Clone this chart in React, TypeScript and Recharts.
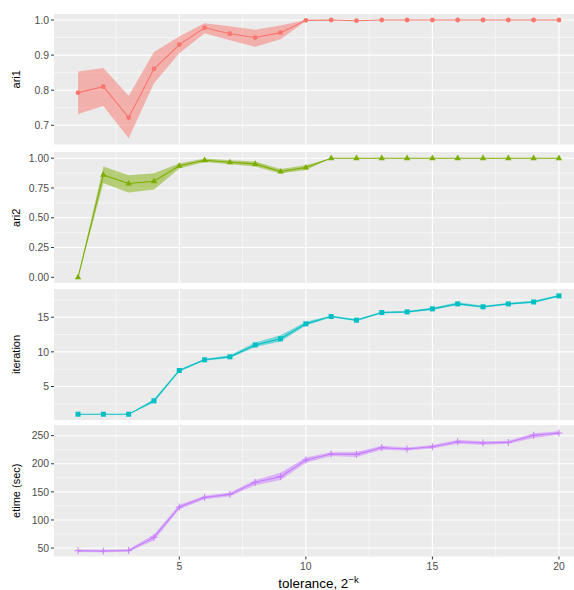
import React from 'react';
import { ComposedChart, Line, Area, XAxis, YAxis, CartesianGrid } from 'recharts';

// tolerance exponent k
const tolerance = [1, 2, 3, 4, 5, 6, 7, 8, 9, 10, 11, 12, 13, 14, 15, 16, 17, 18, 19, 20];

const ari1 = [0.793, 0.81, 0.722, 0.861, 0.93, 0.978, 0.961, 0.95, 0.964, 0.999, 1.0, 0.998, 1.0, 1.0, 1.0, 1.0, 1.0, 1.0, 1.0, 1.0];
const ari1Low = [0.732, 0.755, 0.663, 0.82, 0.905, 0.962, 0.942, 0.924, 0.945, 0.997, 1.0, 0.998, 1.0, 1.0, 1.0, 1.0, 1.0, 1.0, 1.0, 1.0];
const ari1High = [0.853, 0.863, 0.784, 0.909, 0.953, 0.991, 0.982, 0.972, 0.984, 1.0, 1.0, 0.998, 1.0, 1.0, 1.0, 1.0, 1.0, 1.0, 1.0, 1.0];

const ari2 = [0.0, 0.86, 0.787, 0.807, 0.936, 0.983, 0.966, 0.952, 0.888, 0.922, 1.0, 1.0, 1.0, 1.0, 1.0, 1.0, 1.0, 1.0, 1.0, 1.0];
const ari2Low = [0.0, 0.79, 0.711, 0.737, 0.913, 0.969, 0.95, 0.93, 0.871, 0.9, 1.0, 1.0, 1.0, 1.0, 1.0, 1.0, 1.0, 1.0, 1.0, 1.0];
const ari2High = [0.0, 0.93, 0.857, 0.874, 0.955, 0.997, 0.983, 0.972, 0.91, 0.941, 1.0, 1.0, 1.0, 1.0, 1.0, 1.0, 1.0, 1.0, 1.0, 1.0];

const iteration = [1, 1, 1, 2.93, 7.31, 8.85, 9.28, 11.0, 11.88, 14.04, 15.1, 14.57, 15.67, 15.77, 16.2, 16.92, 16.5, 16.92, 17.2, 18.08];
const iterationLow = [1, 1, 1, 2.7, 7.15, 8.7, 9.1, 10.7, 11.5, 13.8, 15.0, 14.4, 15.55, 15.65, 16.05, 16.75, 16.35, 16.8, 17.05, 17.95];
const iterationHigh = [1, 1, 1, 3.2, 7.45, 9.0, 9.5, 11.35, 12.4, 14.35, 15.25, 14.75, 15.8, 15.9, 16.35, 17.15, 16.65, 17.05, 17.4, 18.2];

const etime = [45.3, 44.7, 45.8, 69, 123, 140.2, 145.5, 167, 177, 206.7, 217.4, 216.8, 228.6, 226.3, 230.4, 239.3, 237, 238, 250.6, 254.7];
const etimeLow = [43, 42.5, 43.5, 64, 119, 137, 142, 162, 171, 202, 214, 212, 225, 223.5, 227, 235.5, 234, 235.5, 246, 251.5];
const etimeHigh = [47.5, 47, 48, 74, 127, 143, 149, 171, 184, 211, 220.5, 221, 232, 229, 233.5, 242.5, 240, 241, 254.5, 258];

const xTicks = [5, 10, 15, 20];
const xMinor = [2.5, 7.5, 12.5, 17.5];

const ari1Ticks = [0.7, 0.8, 0.9, 1.0];
const ari1Minor = [0.65, 0.75, 0.85, 0.95];
const ari2Ticks = [0, 0.25, 0.5, 0.75, 1.0];
const ari2Minor = [0.125, 0.375, 0.625, 0.875];
const iterationTicks = [5, 10, 15];
const iterationMinor = [2.5, 7.5, 12.5, 17.5];
const etimeTicks = [50, 100, 150, 200, 250];
const etimeMinor = [75, 125, 175, 225];

const FONT = '"Liberation Sans", Arial, Helvetica, sans-serif';
const CHART_W = 592;
const X_DOMAIN = [0.05, 20.95];
const TICK_FONT = 10.4;
const Y_TITLE_FONT = 11;

const rows = (v: number[], lo: number[], hi: number[]) =>
  tolerance.map((x, i) => ({ x, v: v[i], band: [lo[i], hi[i]] }));

const makeDot = (shape: string, color: string) => (props: any) => {
  const { cx, cy, index } = props;
  if (cx == null || cy == null) return <g key={index} />;
  if (shape === 'circle') return <circle key={index} cx={cx} cy={cy} r={2.4} fill={color} />;
  if (shape === 'triangle')
    return (
      <path
        key={index}
        d={`M${cx},${cy - 3.6}L${cx - 3.2},${cy + 2}L${cx + 3.2},${cy + 2}Z`}
        fill={color}
      />
    );
  if (shape === 'square')
    return <rect key={index} x={cx - 2.5} y={cy - 2.5} width={5} height={5} fill={color} />;
  return (
    <path
      key={index}
      d={`M${cx - 3.5},${cy}H${cx + 3.5}M${cx},${cy - 3.5}V${cy + 3.5}`}
      stroke={color}
      strokeWidth={1}
    />
  );
};

const XTitle = (props: any) => {
  const { viewBox } = props;
  const x = viewBox.x + viewBox.width / 2;
  const y = viewBox.y + viewBox.height - 2;
  return (
    <text x={x} y={y} textAnchor="middle" fontSize={13.4} fill="#000" fontFamily={FONT}>
      tolerance, 2<tspan dy={-5} fontSize={9.5}>−k</tspan>
    </text>
  );
};

const panels = [
  { name: 'ari1', data: rows(ari1, ari1Low, ari1High), color: '#F8766D', shape: 'circle', top: 0, marginTop: 14, plotH: 130.5, domain: [0.6453, 1.0171], ticks: ari1Ticks, minor: ari1Minor, fmt: (v: number) => v.toFixed(1) },
  { name: 'ari2', data: rows(ari2, ari2Low, ari2High), color: '#7CAE00', shape: 'triangle', top: 151.5, marginTop: 0, plotH: 131.5, domain: [-0.052, 1.052], ticks: ari2Ticks, minor: ari2Minor, fmt: (v: number) => v.toFixed(2) },
  { name: 'iteration', data: rows(iteration, iterationLow, iterationHigh), color: '#00BFC4', shape: 'square', top: 288.5, marginTop: 0, plotH: 131, domain: [0.166, 19.07], ticks: iterationTicks, minor: iterationMinor, fmt: (v: number) => String(v) },
  { name: 'etime (sec)', data: rows(etime, etimeLow, etimeHigh), color: '#C77CFF', shape: 'plus', top: 425, marginTop: 0, plotH: 131.5, domain: [35, 269], ticks: etimeTicks, minor: etimeMinor, fmt: (v: number) => String(v) },
];

export default function App() {
  return (
    <div style={{ position: 'relative', width: 574, height: 590, overflow: 'hidden', fontFamily: FONT, background: '#fff' }}>
      <style>{'body{margin:0}'}</style>
      {panels.map((p, i) => {
        const last = i === panels.length - 1;
        const xAxisH = last ? 33.5 : 0;
        const h = p.marginTop + p.plotH + xAxisH;
        return (
          <div key={p.name} style={{ position: 'absolute', left: 0, top: p.top }}>
            <ComposedChart
              width={CHART_W}
              height={h}
              data={p.data}
              margin={{ top: p.marginTop, right: 9, bottom: 0, left: 0 }}
            >
              <CartesianGrid
                horizontalValues={p.minor}
                verticalValues={xMinor}
                stroke="#FFFFFF"
                strokeWidth={0.55}
                fill="#EBEBEB"
                fillOpacity={1}
              />
              <CartesianGrid horizontalValues={p.ticks} verticalValues={xTicks} stroke="#FFFFFF" strokeWidth={1.1} />
              <XAxis
                type="number"
                dataKey="x"
                domain={X_DOMAIN}
                ticks={xTicks}
                allowDataOverflow
                hide={!last}
                height={xAxisH}
                axisLine={false}
                tickSize={3}
                tickMargin={3}
                tickLine={{ stroke: '#333333' }}
                tick={{ fill: '#4D4D4D', fontSize: TICK_FONT }}
                label={last ? { content: <XTitle /> } : undefined}
              />
              <YAxis
                type="number"
                domain={p.domain}
                ticks={p.ticks}
                allowDataOverflow
                width={54}
                axisLine={false}
                tickSize={3}
                tickMargin={2}
                tickLine={{ stroke: '#333333' }}
                tick={{ fill: '#4D4D4D', fontSize: TICK_FONT }}
                tickFormatter={p.fmt}
                label={{ value: p.name, angle: -90, position: 'center', dx: -11, fill: '#000', fontSize: Y_TITLE_FONT }}
              />
              <Area
                type="linear"
                dataKey="band"
                stroke="none"
                fill={p.color}
                fillOpacity={0.5}
                dot={false}
                activeDot={false}
                isAnimationActive={false}
              />
              <Line
                type="linear"
                dataKey="v"
                stroke={p.color}
                strokeWidth={1.1}
                dot={makeDot(p.shape, p.color)}
                activeDot={false}
                isAnimationActive={false}
              />
            </ComposedChart>
          </div>
        );
      })}
    </div>
  );
}
